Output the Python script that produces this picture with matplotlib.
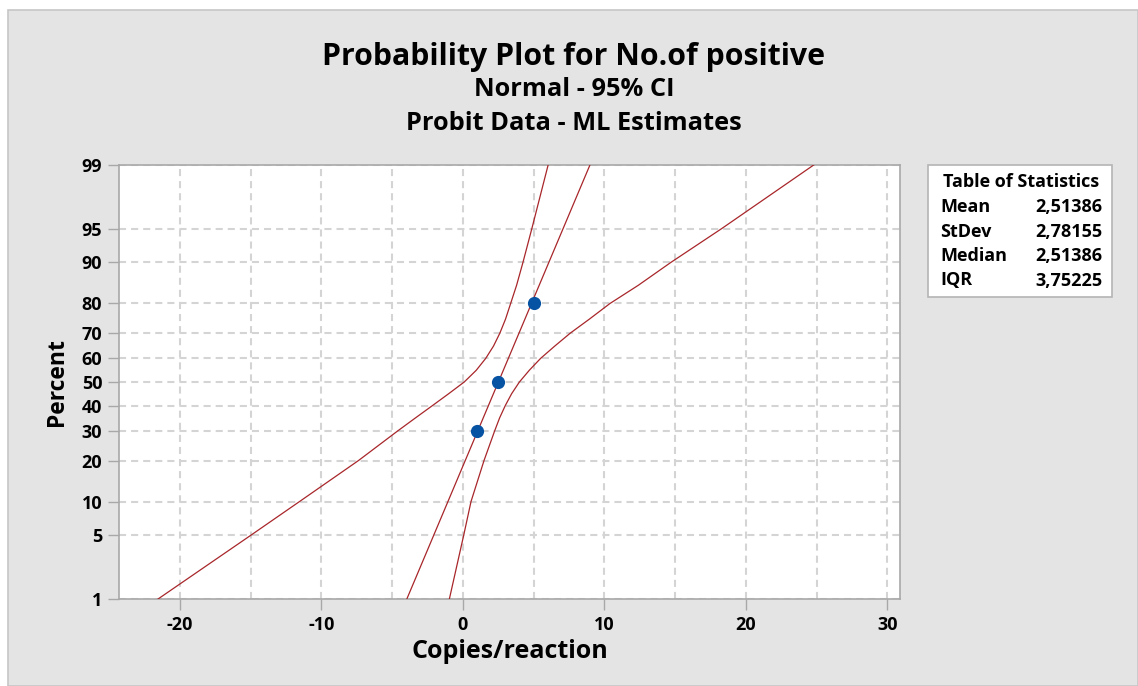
import matplotlib
matplotlib.use("Agg")
import matplotlib.pyplot as plt
from matplotlib.patches import Rectangle
from matplotlib.ticker import FixedLocator, MultipleLocator
from statistics import NormalDist

plt.rcParams['font.family'] = ['Open Sans', 'DejaVu Sans']

# Observed points (copies/reaction vs. percent positive)
copies = [1.0, 2.5, 5.0]
percent_pos = [30, 50, 80]

# ML estimates from the probit fit
mean_est = 2.51386
stdev_est = 2.78155
median_est = 2.51386
iqr_est = 3.75225

# 95% confidence bounds for the percentiles
ci_percent = [1, 5, 10, 20, 30, 35, 40, 45, 50, 55, 60, 65, 70, 75, 80, 85, 90, 95, 99]
ci_lower = [-21.54, -15.0, -11.54, -7.37, -4.6, -3.35, -2.15, -1.0, 0.1, 0.95, 1.62,
            2.17, 2.62, 3.02, 3.38, 3.8, 4.25, 4.88, 6.03]
ci_upper = [-0.95, 0.06, 0.58, 1.5, 2.25, 2.6, 3.0, 3.45, 4.0, 4.7, 5.5,
            6.5, 7.6, 8.95, 10.4, 12.4, 14.7, 18.3, 24.8]

y_ticks = [1, 5, 10, 20, 30, 40, 50, 60, 70, 80, 90, 95, 99]
x_ticks = [-20, -10, 0, 10, 20, 30]

LINE_RED = '#a8262a'
DOT_BLUE = '#0753a3'
GRID_GRAY = '#d4d4d4'
AXIS_GRAY = '#a8a8a8'
PANEL_GRAY = '#e4e4e4'

W, H = 1138, 686


def z(p):
    """percent -> standard normal quantile (probability scale)"""
    return NormalDist().inv_cdf(p / 100.0)


def fx(px):
    return px / W


def fy(py):
    return 1 - py / H


fig = plt.figure(figsize=(W / 100, H / 100), dpi=100, facecolor='white')

# grey panel behind the whole chart
fig.patches.append(Rectangle((fx(8), 0), 1 - fx(8), fy(10), transform=fig.transFigure,
                             facecolor=PANEL_GRAY, edgecolor='#c6c6c6', linewidth=1.2,
                             zorder=-10))

ax = fig.add_axes([fx(119), fy(599), fx(900) - fx(119), fy(165) - fy(599)])
ax.set_zorder(5)
ax.set_facecolor('white')

# fitted line straight from mean / stdev
p_ends = [y_ticks[0], y_ticks[-1]]
ax.plot([mean_est + stdev_est * z(p) for p in p_ends], [z(p) for p in p_ends],
        color=LINE_RED, linewidth=0.9, zorder=3)

# confidence band
zc = [z(p) for p in ci_percent]
ax.plot(ci_lower, zc, color=LINE_RED, linewidth=0.9, zorder=3)
ax.plot(ci_upper, zc, color=LINE_RED, linewidth=0.9, zorder=3)

ax.plot(copies, [z(p) for p in percent_pos], 'o', color=DOT_BLUE, markersize=9.5,
        markeredgewidth=0, zorder=4)

ax.set_xlim(-24.3, 30.9)
ax.set_ylim(z(1), z(99))

ax.yaxis.set_major_locator(FixedLocator([z(p) for p in y_ticks]))
ax.set_yticklabels([str(p) for p in y_ticks])
ax.xaxis.set_major_locator(FixedLocator(x_ticks))
ax.xaxis.set_minor_locator(MultipleLocator(5))
ax.set_xticklabels([str(v) for v in x_ticks])

dash = (0, (3.4, 2.4))
ax.grid(True, which='both', axis='x', color=GRID_GRAY, linestyle=dash, linewidth=1.5, zorder=1)
ax.grid(True, which='major', axis='y', color=GRID_GRAY, linestyle=dash, linewidth=1.5, zorder=1)
ax.set_axisbelow(True)

ax.tick_params(axis='both', which='major', direction='out', length=8, width=1,
               color=AXIS_GRAY, labelsize=13, pad=4)
ax.tick_params(axis='x', which='minor', length=0)
for lab in ax.get_xticklabels() + ax.get_yticklabels():
    lab.set_fontweight('bold')
for sp in ax.spines.values():
    sp.set_color(AXIS_GRAY)
    sp.set_linewidth(1.2)

fig.text(fx(57), fy(382), 'Percent', rotation=90, ha='center', va='center',
         fontsize=16.5, fontweight='bold')
fig.text(fx(510), fy(651), 'Copies/reaction', ha='center', va='center',
         fontsize=18, fontweight='bold')

# titles
fig.text(fx(574), fy(57), 'Probability Plot for No.of positive', ha='center', va='center',
         fontsize=21.8, fontweight='bold')
fig.text(fx(574), fy(90), 'Normal - 95% CI', ha='center', va='center',
         fontsize=18.3, fontweight='bold')
fig.text(fx(574), fy(123), 'Probit Data - ML Estimates', ha='center', va='center',
         fontsize=18.3, fontweight='bold')

# statistics table on the right
fig.patches.append(Rectangle((fx(928), fy(297)), fx(1112) - fx(928), fy(165) - fy(297),
                             transform=fig.transFigure, facecolor='white',
                             edgecolor='#b4b4b4', linewidth=1.2, zorder=1))
fig.text(fx(1021), fy(182), 'Table of Statistics', ha='center', va='center',
         fontsize=13, fontweight='bold')
rows = [('Mean', mean_est), ('StDev', stdev_est), ('Median', median_est), ('IQR', iqr_est)]
for i, (name, val) in enumerate(rows):
    ypx = 207 + i * 24.5
    fig.text(fx(940), fy(ypx), name, ha='left', va='center', fontsize=13, fontweight='bold')
    fig.text(fx(1102), fy(ypx), f'{val:.5f}'.replace('.', ','), ha='right', va='center',
             fontsize=13, fontweight='bold')

fig.savefig('out.png', dpi=100, facecolor='white')
